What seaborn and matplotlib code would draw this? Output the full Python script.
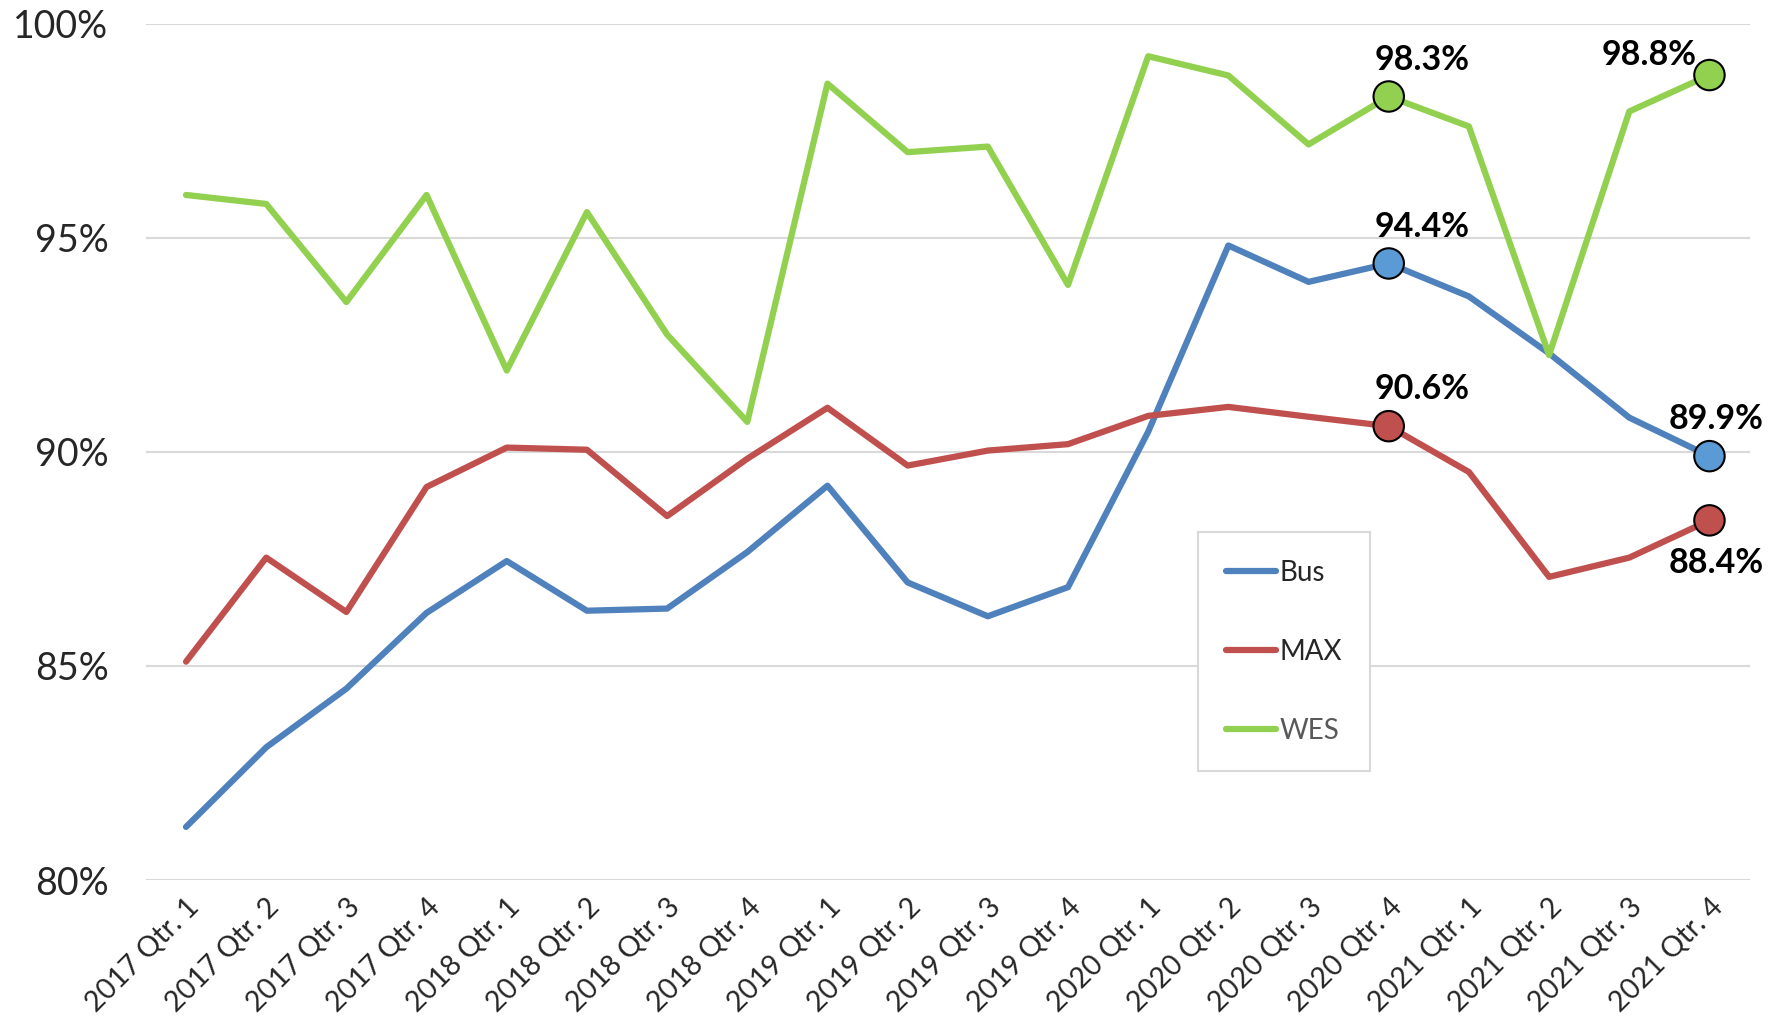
import pandas as pd
import matplotlib
matplotlib.use("Agg")
import matplotlib.pyplot as plt
import seaborn as sns

# -----------------------
# Data
# -----------------------
quarters = [f"{y} Qtr. {q}" for y in (2017, 2018, 2019, 2020, 2021) for q in (1, 2, 3, 4)]

bus = [81.24, 83.1, 84.47, 86.24, 87.45, 86.29, 86.34, 87.66, 89.21, 86.95,
       86.16, 86.84, 90.47, 94.82, 93.97, 94.4, 93.63, 92.3, 90.8, 89.9]
max_ = [85.1, 87.53, 86.26, 89.18, 90.1, 90.05, 88.5, 89.84, 91.03, 89.68,
        90.03, 90.18, 90.84, 91.05, 90.82, 90.6, 89.53, 87.08, 87.53, 88.4]
wes = [96.0, 95.79, 93.5, 96.0, 91.9, 95.6, 92.74, 90.7, 98.6, 97.0,
       97.13, 93.9, 99.24, 98.79, 97.18, 98.3, 97.6, 92.26, 97.95, 98.8]

series = ["Bus", "MAX", "WES"]
line_colors = ["#4F81BD", "#C0504D", "#92D050"]
marker_colors = ["#5B9BD5", "#C0504D", "#92D050"]

# highlighted points: 2020 Qtr. 4 and 2021 Qtr. 4
highlight = ["2020 Qtr. 4", "2021 Qtr. 4"]

df = pd.DataFrame({"quarter": quarters, "Bus": bus, "MAX": max_, "WES": wes})
df["idx"] = range(len(df))
long = df.melt(id_vars=["quarter", "idx"], value_vars=series,
               var_name="series", value_name="pct")

# -----------------------
# Plot
# -----------------------
sns.set_style("white")
plt.rcParams["font.family"] = ["Lato", "DejaVu Sans"]

fig = plt.figure(figsize=(17.69, 10.30), dpi=100)
ax = fig.add_axes([0.0825, 0.1456, 0.9065, 0.8314])

sns.lineplot(data=long, x="idx", y="pct", hue="series", hue_order=series,
             palette=line_colors, linewidth=4.5, sort=False, ax=ax,
             solid_capstyle="round")

pts = long[long["quarter"].isin(highlight)]
sns.scatterplot(data=pts, x="idx", y="pct", hue="series", hue_order=series,
                palette=marker_colors, s=480, edgecolor="black", linewidth=1.5,
                legend=False, zorder=5, ax=ax)

# data labels
offsets = {
    ("Bus", "2020 Qtr. 4"): (24, 15, "center", "bottom"),
    ("Bus", "2021 Qtr. 4"): (5, 15, "center", "bottom"),
    ("MAX", "2020 Qtr. 4"): (24, 15, "center", "bottom"),
    ("MAX", "2021 Qtr. 4"): (5, -19, "center", "top"),
    ("WES", "2020 Qtr. 4"): (24, 15, "center", "bottom"),
    ("WES", "2021 Qtr. 4"): (-9, 3, "right", "bottom"),
}
for _, r in pts.iterrows():
    dx, dy, ha, va = offsets[(r["series"], r["quarter"])]
    ax.annotate(f"{r['pct']:.1f}%", (r["idx"], r["pct"]), xytext=(dx, dy),
                textcoords="offset points", ha=ha, va=va,
                fontsize=24.5, fontweight="bold", color="black", zorder=6)

ax.set_xlim(-0.5, len(quarters) - 0.5)
ax.set_ylim(80, 100)
ax.set_yticks([80, 85, 90, 95, 100])
ax.set_yticklabels([f"{t}%" for t in [80, 85, 90, 95, 100]], fontsize=27)
ax.set_xticks(df["idx"])
ax.set_xticklabels(quarters, rotation=45, ha="right", rotation_mode="anchor",
                   fontsize=20.5)
ax.tick_params(axis="both", length=0, pad=10)
ax.tick_params(axis="y", pad=27)
ax.set_xlabel("")
ax.set_ylabel("")
ax.grid(axis="y", color="#D9D9D9", linewidth=1.5)
ax.set_axisbelow(True)
for s in ax.spines.values():
    s.set_visible(False)

leg = ax.legend(loc="upper left", bbox_to_anchor=(0.656, 0.406),
                frameon=True, fancybox=False, framealpha=1, fontsize=20,
                labelspacing=1.9, handlelength=1.8, handletextpad=0.15,
                borderpad=1.0, borderaxespad=0)
leg.get_frame().set_edgecolor("#D9D9D9")
leg.get_frame().set_linewidth(1.5)
for txt in leg.get_texts():
    if txt.get_text() == "WES":
        txt.set_color("#595959")

plt.savefig("out.png", dpi=100)
